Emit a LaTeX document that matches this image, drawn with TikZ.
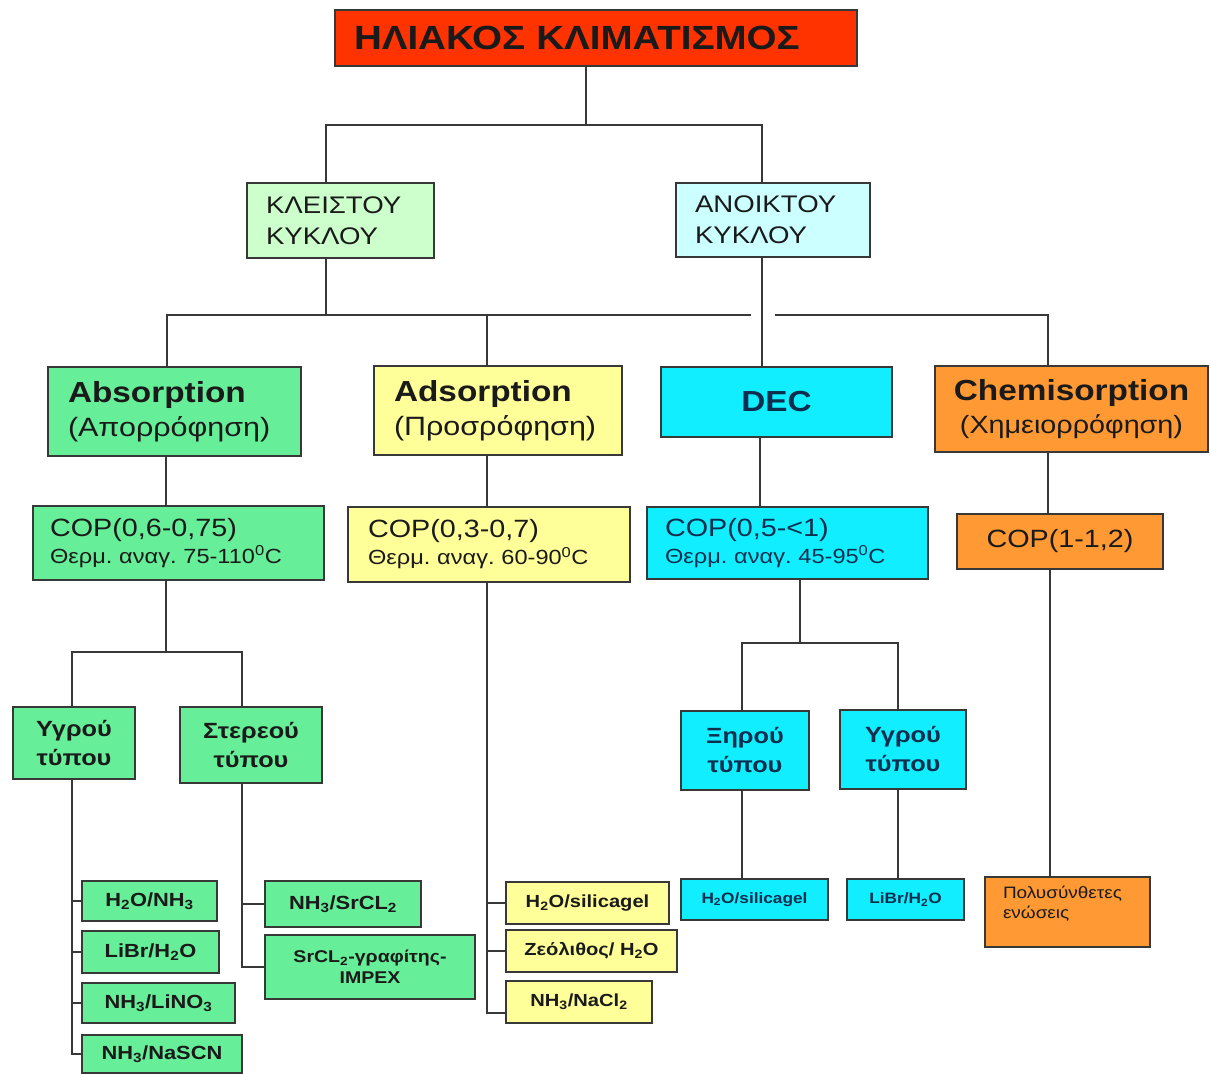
\documentclass[tikz,border=0pt]{standalone}
\usepackage{fontspec}
\setmainfont{Liberation Sans}[FakeStretch=1.15]
\frenchspacing
\definecolor{lc}{HTML}{383838}
\definecolor{tc}{HTML}{1A1A1A}
\definecolor{navy}{HTML}{0E2E4E}
\definecolor{cred}{HTML}{FF3300}
\definecolor{cpg}{HTML}{CCFFCC}
\definecolor{cpc}{HTML}{CCFFFF}
\definecolor{cgreen}{HTML}{66EE99}
\definecolor{cyel}{HTML}{FFFF99}
\definecolor{ccyan}{HTML}{11EEFF}
\definecolor{corange}{HTML}{FF9933}
\newcommand\fs[2]{\fontsize{#1}{#2}\selectfont}
\newcommand\sbs[1]{\textsubscript{#1}}
\tikzset{
  bx/.style={draw=lc, line width=1.8pt, rectangle, inner ysep=0pt, text=tc},
  ln/.style={draw=lc, line width=1.8pt},
  leafg/.style={bx, fill=cgreen, align=center, font=\fs{19}{22}\bfseries},
  leafy/.style={bx, fill=cyel, align=center, font=\fs{17.5}{21}\bfseries},
  leafc/.style={bx, fill=ccyan, align=center, text=navy, font=\fs{15}{18}\bfseries},
  typ/.style={bx, align=center, font=\fs{22}{29}\bfseries},
}
\begin{document}
\begin{tikzpicture}[x=1pt,y=-1pt]
\useasboundingbox[fill=white] (0,0) rectangle (1211,1074);

% level 0
\node[bx, fill=cred, minimum height=56pt, inner xsep=19pt, text width=484pt, align=left, font=\fs{33.5}{38}\bfseries] (title) at (596,38) {ΗΛΙΑΚΟΣ ΚΛΙΜΑΤΙΣΜΟΣ};

% level 1
\node[bx, fill=cpg, minimum height=75pt, inner xsep=19pt, text width=149pt, align=left, font=\fs{24}{31}] (kle) at (340.5,220.5) {ΚΛΕΙΣΤΟΥ\\ΚΥΚΛΟΥ};
\node[bx, fill=cpc, minimum height=74pt, inner xsep=19pt, text width=156pt, align=left, font=\fs{24}{31}] (ano) at (773,220) {ΑΝΟΙΚΤΟΥ\\ΚΥΚΛΟΥ};

% level 2
\node[bx, fill=cgreen, minimum height=89pt, inner xsep=20pt, text width=213pt, align=left, font=\fs{26.5}{34}] (abs) at (174.5,411.5) {{\fs{29}{32}\bfseries Absorption}\\(Απορρόφηση)};
\node[bx, fill=cyel, minimum height=89pt, inner xsep=20pt, text width=208pt, align=left, font=\fs{26.5}{34}] (ads) at (498,410.5) {{\fs{29}{32}\bfseries Adsorption}\\(Προσρόφηση)};
\node[bx, fill=ccyan, minimum width=231pt, minimum height=70pt, text=navy, align=center, font=\fs{29}{32}\bfseries] (dec) at (776.5,402) {DEC};
\node[bx, fill=corange, minimum width=273pt, minimum height=86pt, align=center, font=\fs{25}{33}] (chem) at (1071.5,409) {{\fs{29}{32}\bfseries Chemisorption}\\(Χημειορρόφηση)};

% level 3 : COP
\node[bx, fill=cgreen, minimum height=74pt, inner xsep=17pt, text width=257pt, align=left, font=\fs{20.5}{27}] (absCOP) at (178.5,543) {{\fs{25}{27}COP(0,6-0,75)}\\Θερμ. αναγ. 75-110\textsuperscript{0}C};
\node[bx, fill=cyel, minimum height=75pt, inner xsep=20pt, text width=242pt, align=left, font=\fs{20.5}{27}] (adsCOP) at (489,544.5) {{\fs{25}{27}COP(0,3-0,7)}\\Θερμ. αναγ. 60-90\textsuperscript{0}C};
\node[bx, fill=ccyan, text=navy, minimum height=72pt, inner xsep=18pt, text width=245pt, align=left, font=\fs{20.5}{27}] (decCOP) at (787.5,543) {{\fs{25}{27}COP(0,5-<1)}\\Θερμ. αναγ. 45-95\textsuperscript{0}C};
\node[bx, fill=corange, minimum width=206pt, minimum height=55pt, align=center, font=\fs{25}{27}] (chemCOP) at (1060,541.5) {COP(1-1,2)};

% level 4 : types
\node[typ, fill=cgreen, minimum width=122pt, minimum height=72pt] (wet) at (74,743) {Υγρού\\τύπου};
\node[typ, fill=cgreen, minimum width=142pt, minimum height=76pt] (solid) at (251,745) {Στερεού\\τύπου};
\node[typ, fill=ccyan, text=navy, minimum width=128pt, minimum height=79pt] (dry) at (745,750.5) {Ξηρού\\τύπου};
\node[typ, fill=ccyan, text=navy, minimum width=126pt, minimum height=79pt] (dwet) at (903,749.5) {Υγρού\\τύπου};

% leaves : absorption liquid
\node[leafg, minimum width=135pt, minimum height=40pt] (h2onh3) at (149.5,901) {H\sbs{2}O/NH\sbs{3}};
\node[leafg, minimum width=137pt, minimum height=42pt] (libr) at (150.5,952) {LiBr/H\sbs{2}O};
\node[leafg, minimum width=153pt, minimum height=40pt] (lino3) at (158.5,1003) {NH\sbs{3}/LiNO\sbs{3}};
\node[leafg, minimum width=160pt, minimum height=38pt] (nascn) at (162,1054) {NH\sbs{3}/NaSCN};
% leaves : absorption solid
\node[leafg, minimum width=156pt, minimum height=46pt] (nh3srcl2) at (343,904) {NH\sbs{3}/SrCL\sbs{2}};
\node[leafg, minimum width=210pt, minimum height=64pt, font=\fs{17}{21}\bfseries] (srcl2) at (370,967) {SrCL\sbs{2}-γραφίτης-\\IMPEX};
% leaves : adsorption
\node[leafy, minimum width=163pt, minimum height=42pt] (silica) at (587.5,903) {H\sbs{2}O/silicagel};
\node[leafy, minimum width=171pt, minimum height=42pt] (zeo) at (591.5,951) {Ζεόλιθος/ H\sbs{2}O};
\node[leafy, minimum width=146pt, minimum height=42pt] (nacl) at (579,1002) {NH\sbs{3}/NaCl\sbs{2}};
% leaves : DEC
\node[leafc, minimum width=147pt, minimum height=41pt] (csil) at (754.5,899.5) {H\sbs{2}O/silicagel};
\node[leafc, minimum width=117pt, minimum height=41pt] (clibr) at (905.5,899.5) {LiBr/H\sbs{2}O};
% leaf : chemisorption
\node[bx, fill=corange, minimum height=70pt, inner xsep=18pt, text width=129pt, align=left, font=\fs{16.5}{20}] (poly) at (1067.5,912) {Πολυσύνθετες\\ενώσεις\\\mbox{}};

% connectors
\coordinate (t1) at (586,125);
\draw[ln] (title.south -| t1) -- (t1);
\draw[ln] (kle.north -| 326,0) |- (t1) -| (ano.north -| 762,0);

\coordinate (b2) at (326,315);
\coordinate (b2a) at (487,315);
\coordinate (g1) at (751,315);
\coordinate (g2) at (775,315);
\draw[ln] (kle.south -| b2) -- (b2);
\draw[ln] (abs.north -| 167,0) |- (g1);
\draw[ln] (b2a) -- (ads.north -| b2a);
\draw[ln] (g2) -| (chem.north -| 1048,0);
\draw[ln] (ano.south -| 762,0) -- (dec.north -| 762,0);

\draw[ln] (abs.south -| 166,0) -- (absCOP.north -| 166,0);
\draw[ln] (ads.south -| 487,0) -- (adsCOP.north -| 487,0);
\draw[ln] (dec.south -| 760,0) -- (decCOP.north -| 760,0);
\draw[ln] (chem.south -| 1048,0) -- (chemCOP.north -| 1048,0);

% absorption subtree
\coordinate (b3) at (166,652);
\draw[ln] (absCOP.south -| b3) -- (b3);
\draw[ln] (wet.north -| 72,0) |- (b3) -| (solid.north -| 242,0);
\draw[ln] (wet.south -| 72,0) |- (nascn.west);
\draw[ln] (h2onh3.west -| 72,0) -- (h2onh3.west);
\draw[ln] (libr.west -| 72,0) -- (libr.west);
\draw[ln] (lino3.west -| 72,0) -- (lino3.west);
\draw[ln] (solid.south -| 242,0) |- (srcl2.west);
\draw[ln] (nh3srcl2.west -| 242,0) -- (nh3srcl2.west);

% adsorption subtree
\draw[ln] (adsCOP.south -| 487,0) |- (nacl.west |- 0,1013);
\draw[ln] (silica.west -| 487,0) -- (silica.west);
\draw[ln] (zeo.west -| 487,0) -- (zeo.west);

% DEC subtree
\coordinate (b4) at (800,643);
\draw[ln] (decCOP.south -| b4) -- (b4);
\draw[ln] (dry.north -| 742,0) |- (b4) -| (dwet.north -| 898,0);
\draw[ln] (dry.south -| 742,0) -- (csil.north -| 742,0);
\draw[ln] (dwet.south -| 898,0) -- (clibr.north -| 898,0);

% chemisorption subtree
\draw[ln] (chemCOP.south -| 1050,0) -- (poly.north -| 1050,0);
\end{tikzpicture}
\end{document}
